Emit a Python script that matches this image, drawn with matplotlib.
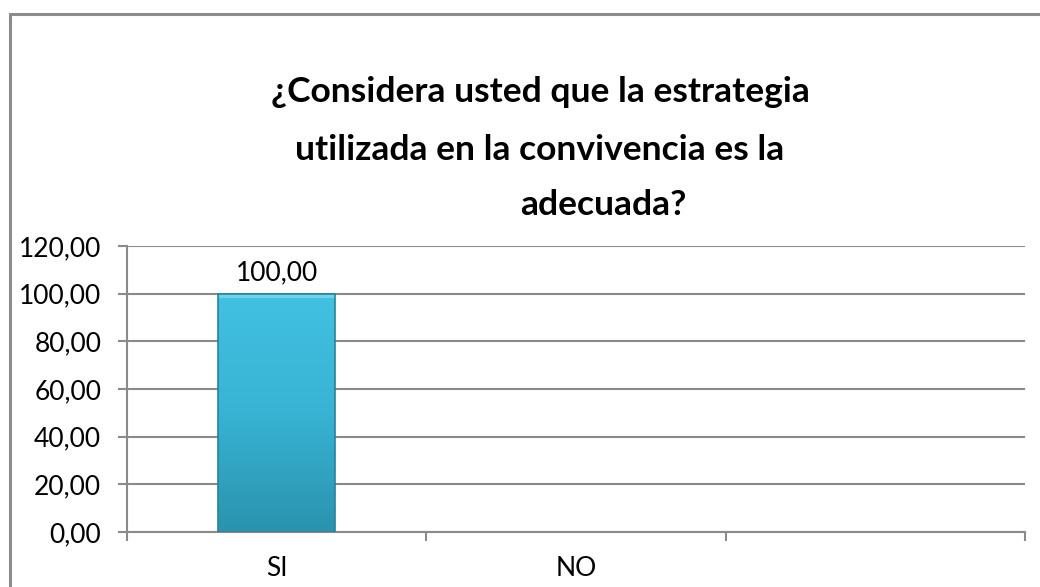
import numpy as np
import matplotlib
matplotlib.use('Agg')
import matplotlib.pyplot as plt
from matplotlib.patches import Rectangle
from matplotlib.colors import LinearSegmentedColormap

# data
categories = ['SI', 'NO', '']
values = [100.0, 0.0, 0.0]
yticks = [0, 20, 40, 60, 80, 100, 120]
title_lines = ['¿Considera usted que la estrategia',
               'utilizada en la convivencia es la',
               'adecuada?']

plt.rcParams['font.family'] = ['Lato', 'DejaVu Sans']
W, H = 1040, 587
fig = plt.figure(figsize=(W/100, H/100), dpi=100)
fig.patch.set_facecolor('white')

# outer chart frame (runs off the right/bottom of the picture)
fig.patches.append(Rectangle((9.5/W, -0.1), 1.2, 1 - 14/H + 0.1, transform=fig.transFigure,
                             fill=False, edgecolor='#8c8c8c', linewidth=2.2, zorder=0))

ax = fig.add_axes([127/W, 1 - 532/H, (1025 - 127)/W, (532 - 246)/H])
grid_c = '#8a8a8a'
x = np.arange(len(categories))

for s in ['top', 'right']:
    ax.spines[s].set_visible(False)
for s in ['left', 'bottom']:
    ax.spines[s].set_color(grid_c)
    ax.spines[s].set_linewidth(1.5)

ax.set_yticks(yticks)
ax.set_yticklabels(['{:.2f}'.format(v).replace('.', ',') for v in yticks], fontsize=19)
ax.yaxis.grid(True, color=grid_c, linewidth=1.5)
ax.set_axisbelow(True)
ax.tick_params(axis='y', length=6.5, width=1.5, color=grid_c, pad=12)

# category ticks at boundaries, labels at centers
ax.set_xticks(np.arange(len(categories) + 1) - 0.5)
ax.set_xticklabels([])
ax.set_xticks(x, minor=True)
ax.set_xticklabels(categories, minor=True, fontsize=19)
ax.tick_params(axis='x', which='major', length=6.5, width=1.5, color=grid_c)
ax.tick_params(axis='x', which='minor', length=0, pad=17)

# bars with a vertical gradient
cmap = LinearSegmentedColormap.from_list('bar', ['#2a93ae', '#38b3d3', '#42c1e2'])
bars = ax.bar(x, values, width=0.39, color='none', edgecolor='#25849d', linewidth=1.2, zorder=3)
grad = np.linspace(0, 1, 256).reshape(-1, 1)
for b, v in zip(bars, values):
    if v <= 0:
        b.set_linewidth(0)
        continue
    x0, w = b.get_x(), b.get_width()
    im = ax.imshow(grad, extent=[x0, x0 + w, 0, v], origin='lower', cmap=cmap,
                   aspect='auto', zorder=2)
    im.set_clip_path(b)
    # light bevel at the top edge
    ax.add_patch(Rectangle((x0, v - 1.8), w, 1.8, facecolor='#6fd3ee', edgecolor='none', zorder=2.5))
    ax.text(x0 + w/2, v + 3.5, '{:.2f}'.format(v).replace('.', ','), ha='center', va='bottom',
            fontsize=19)
ax.set_xlim(-0.5, len(categories) - 0.5)
ax.set_ylim(0, 120)

# title, one text per wrapped line
title_pos = [(540, 92), (540, 150), (603, 205)]
for line, (tx, ty) in zip(title_lines, title_pos):
    fig.text(tx/W, 1 - ty/H, line, ha='center', va='center', fontsize=25.5, fontweight='bold')

fig.savefig('out.png', dpi=100)
